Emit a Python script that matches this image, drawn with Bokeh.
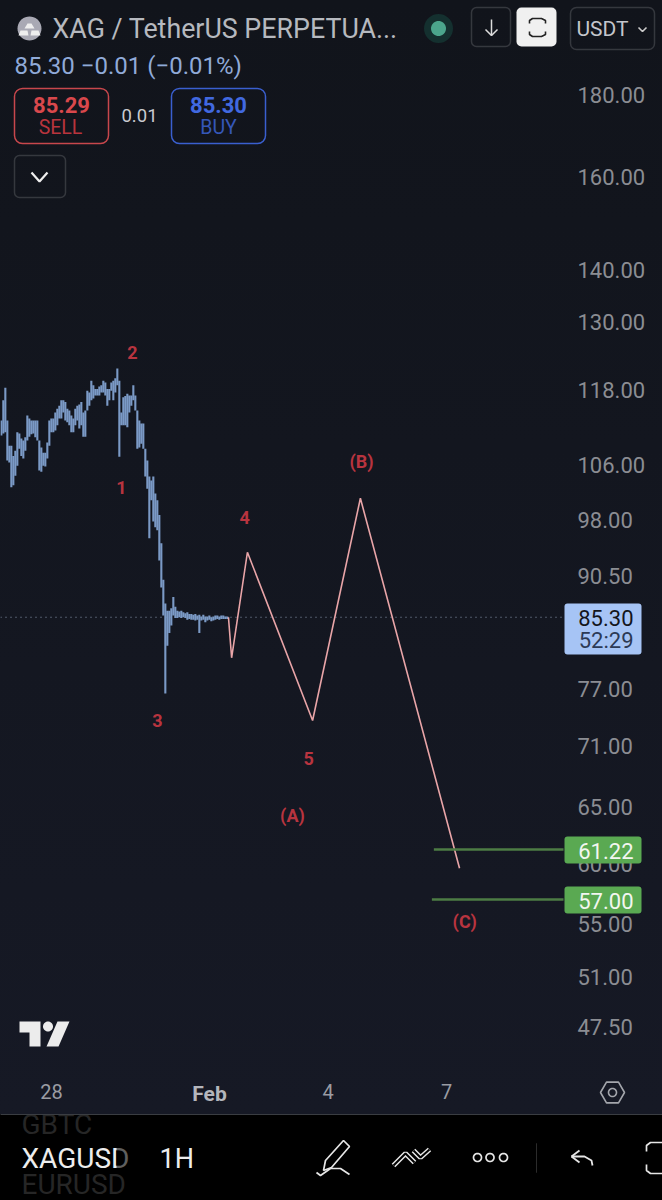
import numpy as np
from bokeh.plotting import figure
from bokeh.embed import file_html
from bokeh.resources import INLINE
from bokeh.core.properties import value
from bokeh.models import Range1d, FixedTicker, NumeralTickFormatter, Label, BoxAnnotation, PolyAnnotation

# ---------- chart data ----------
bar_first_day = 26.73
bar_step_day = 0.05063
bar_high = [113.0,116.3,118.4,113.0,109.0,109.0,107.4,108.2,111.1,110.9,110.1,109.8,110.3,113.8,113.3,113.0,113.0,113.0,113.0,109.8,
            108.7,107.9,107.9,109.5,113.0,113.3,113.3,114.3,114.9,115.4,116.3,116.3,116.0,114.9,114.6,113.8,113.3,114.9,115.4,115.6,
            116.0,114.3,114.6,117.9,117.6,119.6,118.8,118.2,118.2,118.6,118.8,119.6,119.3,118.2,118.2,119.3,119.6,120.0,121.7,119.6,
            114.3,116.8,117.0,117.4,117.1,117.1,118.8,117.1,114.6,113.0,112.5,112.5,108.5,106.7,104.3,103.7,104.3,101.8,100.8,98.7,
            94.8,90.0,87.0,86.1,86.1,86.4,87.8,86.6,86.1,86.0,86.1,85.9,85.8,85.9,85.7,85.7,85.6,85.7,85.5,85.6,85.4,85.6,85.4,85.4,
            85.5,85.3,85.4,85.5,85.5,85.4,85.5,85.5,85.4,85.4]
bar_low = [110.6,110.9,111.1,106.7,106.4,102.7,103.0,104.4,105.9,108.5,107.4,107.0,108.2,109.8,110.4,110.8,110.9,110.3,109.8,105.2,
           105.0,105.9,105.8,107.0,109.0,111.1,111.1,111.4,112.2,113.3,113.3,114.3,113.0,112.7,112.2,111.1,111.1,112.2,113.0,111.7,
           112.2,110.4,110.4,114.6,115.4,116.3,116.6,117.1,117.1,117.1,117.6,117.6,117.1,115.4,116.3,117.9,116.3,117.6,118.8,107.3,
           112.2,112.2,112.2,111.9,114.3,115.4,116.3,114.6,108.5,108.7,109.3,108.5,104.3,102.5,95.5,100.8,97.8,97.0,96.6,92.5,
           89.0,85.5,76.5,81.9,83.4,84.3,85.5,85.2,85.2,85.3,85.2,85.3,85.2,85.0,85.1,85.0,85.0,84.9,85.0,83.4,84.9,85.0,84.7,84.9,
           85.0,84.8,84.9,85.0,85.1,85.0,85.1,85.1,85.1,85.1]
wave_day = [32.48, 32.56, 32.96, 34.61, 35.82, 38.33]
wave_price = [85.3, 80.5, 93.6, 73.6, 101.1, 59.6]
target_prices = [61.22, 57.00]
target_start_days = [37.68, 37.63]
last_price = 85.30
wave_labels = ["2", "1", "4", "3", "5", "(A)", "(B)", "(C)"]
wave_label_day = [30.05, 29.77, 32.89, 30.68, 34.51, 34.10, 35.85, 38.46]
wave_label_price = [124.5, 102.7, 98.4, 73.6, 69.7, 64.3, 106.6, 55.2]
price_ticks = [180, 160, 140, 130, 118, 106, 98, 90.5, 77, 71, 65, 60, 55, 51, 47.5]
day_ticks = [28, 32, 35, 38]
day_tick_labels = {28: "28", 32: "", 35: "4", 38: "7"}

# ---------- scales: page pixels <-> data ----------
def day_at(px): return 28 + (px - 51) / 39.5
def price_at(py): return 180 * np.exp(-(py - 94) / 700)

FT, FB, FL, FR = 0, 1200, 0, 662
AXIS_X, AXIS_Y = 563, 1075
p = figure(width=662, height=1200, output_backend="svg", toolbar_location=None, y_axis_type="log",
           y_axis_location="right", x_range=Range1d(day_at(FL), day_at(FR)),
           y_range=Range1d(price_at(FB), price_at(FT)),
           min_border_left=0, min_border_top=0, min_border_right=0, min_border_bottom=0,
           background_fill_alpha=0, border_fill_alpha=0, outline_line_color=None)
p.styles = {"background": "linear-gradient(to bottom,#11141b 0,#161925 1114px,#000 1114px,#000 1200px)"}
p.grid.visible = False

ax = p.yaxis[0]
ax.fixed_location = day_at(AXIS_X)
ax.ticker = FixedTicker(ticks=price_ticks)
ax.formatter = NumeralTickFormatter(format="0.00")
ax.major_label_text_font = "Roboto"
ax.major_label_text_font_size = "22px"
ax.major_label_text_color = "#8b8d93"
ax.major_label_standoff = 8
ax.axis_line_color = None
ax.major_tick_line_color = None
ax.minor_tick_line_color = None
bx = p.xaxis[0]
bx.fixed_location = price_at(AXIS_Y)
bx.ticker = FixedTicker(ticks=day_ticks)
bx.major_label_overrides = day_tick_labels
bx.major_label_text_font = "Roboto"
bx.major_label_text_font_size = "20px"
bx.major_label_text_color = "#9a9ca3"
bx.major_label_standoff = 2
bx.axis_line_color = None
bx.major_tick_line_color = None
bx.minor_tick_line_color = None

# ---------- marks ----------
p.line([day_at(FL), day_at(AXIS_X)], [last_price, last_price], line_color="#8d9bb3", line_width=1, line_dash="1 4")
bar_days = [bar_first_day + i * bar_step_day for i in range(len(bar_high))]
p.segment(bar_days, bar_high, bar_days, bar_low, line_color="#7b9ac6", line_width=2.1)
p.line(wave_day, wave_price, line_color="#e9a5a8", line_width=1.6)
for d, v in zip(target_start_days, target_prices):
    p.line([d, day_at(AXIS_X)], [v, v], line_color="#4d7c45", line_width=2.4)
p.text(wave_label_day, wave_label_price, text=wave_labels, text_color="#b8343f", text_font=value("Roboto"),
       text_font_style="bold", text_font_size="18px", text_align="center", text_baseline="middle")

# ---------- interface furniture, placed in canvas pixels ----------
def T(x, y, s, size, color, align="left", style="normal", font="Roboto"):
    p.add_layout(Label(x=x, y=y, text=s, x_units="canvas", y_units="canvas", text_font=font,
                       text_font_size=f"{size}px", text_color=color, text_align=align,
                       text_baseline="middle", text_font_style=style))
def B(l, r, t, b, fill=None, line=None, lw=1.5, rad=0, alpha=1.0):
    p.add_layout(BoxAnnotation(left=l, right=r, top=t, bottom=b, left_units="canvas", right_units="canvas",
                               top_units="canvas", bottom_units="canvas",
                               fill_color=fill or "#000000", fill_alpha=alpha if fill else 0,
                               line_color=line or "#000000", line_alpha=1 if line else 0, line_width=lw,
                               border_radius=rad, level="annotation"))
def P(xs, ys, fill=None, line=None, lw=1.6):
    p.add_layout(PolyAnnotation(xs=[float(v) for v in xs], ys=[float(v) for v in ys],
                                xs_units="canvas", ys_units="canvas",
                                fill_color=fill or "#000000", fill_alpha=1 if fill else 0,
                                line_color=line or "#000000", line_alpha=1 if line else 0, line_width=lw))
def L(pts, line="#e8e8e8", lw=1.8):
    xs = [q[0] for q in pts]; ys = [q[1] for q in pts]
    P(xs + xs[::-1], ys + ys[::-1], None, line, lw)
def C(cx, cy, r, fill=None, line=None, lw=1.6, n=36):
    a = np.linspace(0, 2 * np.pi, n, endpoint=False)
    P(cx + r * np.cos(a), cy + r * np.sin(a), fill, line, lw)

# header
C(29, 28, 12, fill="#a9a9b4")
P([24, 34, 31, 27], [28, 28, 23, 23], fill="#eeeeee")
P([18, 28, 27, 20], [35, 35, 30, 30], fill="#eeeeee")
P([30, 40, 38, 31], [35, 35, 30, 30], fill="#eeeeee")
T(52, 28, "XAG / TetherUS PERPETUA...", 26.8, "#b6b9bf")
C(438, 28, 14.5, fill="#14302f")
C(438, 28, 7.5, fill="#4ba58c")
B(471, 510, 7, 46, line="#35383e", rad=5)
L([(491, 19), (491, 35)], "#dddddd", 1.5)
L([(485, 29), (491, 35), (497, 29)], "#dddddd", 1.5)
B(516, 556, 7, 46, fill="#f0f0f0", rad=5)
L([(529, 23), (529, 20), (532, 18), (541, 18), (545, 20), (545, 23)], "#222222", 1.6)
L([(529, 31), (529, 34), (532, 36), (541, 36), (545, 34), (545, 31)], "#222222", 1.6)
B(570, 654, 7, 49, line="#35383e", rad=6)
T(576, 28, "USDT", 21, "#c4c6cb")
L([(638, 27), (642, 31), (646, 27)], "#cccccc", 1.6)
T(14, 65, "85.30  \u22120.01 (\u22120.01%)", 24, "#90aad8")
B(14, 108, 88, 143, line="#c8474c", rad=8)
T(61, 104, "85.29", 22, "#d9484c", "center", "bold")
T(60, 127, "SELL", 19.5, "#b9343d", "center")
T(139, 115, "0.01", 18.5, "#c9cbd0", "center")
B(171, 265, 88, 143, line="#3a5fcf", rad=8)
T(218, 104, "85.30", 22, "#4169e1", "center", "bold")
T(218, 127, "BUY", 19.5, "#3557b8", "center")
B(14, 65, 155, 197, line="#35383e", rad=5)
L([(31, 172), (39, 181), (47, 172)], "#eeeeee", 2.2)

# price tags
B(564, 641, 603, 654, fill="#a6c4f5", rad=3)
T(633, 617, "85.30", 22, "#14161c", "right")
T(633, 640, "52:29", 22, "#2c3a55", "right")
B(564, 641, 836, 863, fill="#5aa952", rad=3)
T(633, 850, "61.22", 22, "#f2f6f0", "right")
B(564, 641, 886, 913, fill="#5aa952", rad=3)
T(633, 900, "57.00", 22, "#f2f6f0", "right")

# watermark and axis extras
P([19, 40, 40, 29, 29, 19], [1021, 1021, 1046, 1046, 1032, 1032], fill="#ececec")
C(47.5, 1026, 5, fill="#ececec")
P([57, 69, 58, 46], [1021, 1021, 1046, 1046], fill="#ececec")
T(209, 1093, "Feb", 21, "#b4b6bc", "center", "bold")
a6 = np.pi / 3 * np.arange(6)
P(612 + 12 * np.cos(a6), 1092 + 12 * np.sin(a6), None, "#a4a6ac", 1.6)
C(612, 1092, 4, line="#a4a6ac", lw=1.6)

# bottom toolbar
T(21, 1124, "GBTC", 28, "#262626")
L([(0, 1114), (662, 1114)], "#3a3d42", 1)
T(21, 1158, "XAGUSD", 28, "#ededed")
B(116, 134, 1142, 1174, fill="#000000", alpha=0.6)
T(159, 1158, "1H", 27, "#ededed")
T(21, 1184, "EURUSD", 28, "#262626")
P([343, 349, 331, 323, 325], [1140, 1146, 1167, 1170, 1160], None, "#e6e6e6", 1.7)
L([(316, 1172), (320, 1175), (330, 1168), (340, 1168), (349, 1174)], "#e6e6e6", 1.7)
L([(393, 1165), (405, 1153), (414, 1162)], "#e6e6e6", 5)
L([(393, 1165), (405, 1153), (414, 1162)], "#000000", 2)
L([(413, 1150), (420, 1157), (429, 1149)], "#e6e6e6", 5)
L([(413, 1150), (420, 1157), (429, 1149)], "#000000", 2)
C(477, 1157, 4, line="#e6e6e6", lw=1.7)
C(489.5, 1157, 4, line="#e6e6e6", lw=1.7)
C(503, 1157, 4, line="#e6e6e6", lw=1.7)
L([(536, 1143), (536, 1172)], "#2b2b2b", 1)
L([(571, 1156), (579, 1150)], "#e6e6e6", 1.8)
L([(571, 1156), (579, 1162)], "#e6e6e6", 1.8)
L([(571, 1156), (584, 1156), (591, 1160), (592, 1165)], "#e6e6e6", 1.8)
L([(662, 1142), (650, 1142), (646, 1145), (646, 1151)], "#e6e6e6", 1.7)
L([(662, 1173), (650, 1173), (646, 1170), (646, 1164)], "#e6e6e6", 1.7)

open("out.html", "w").write(file_html(p, INLINE))
